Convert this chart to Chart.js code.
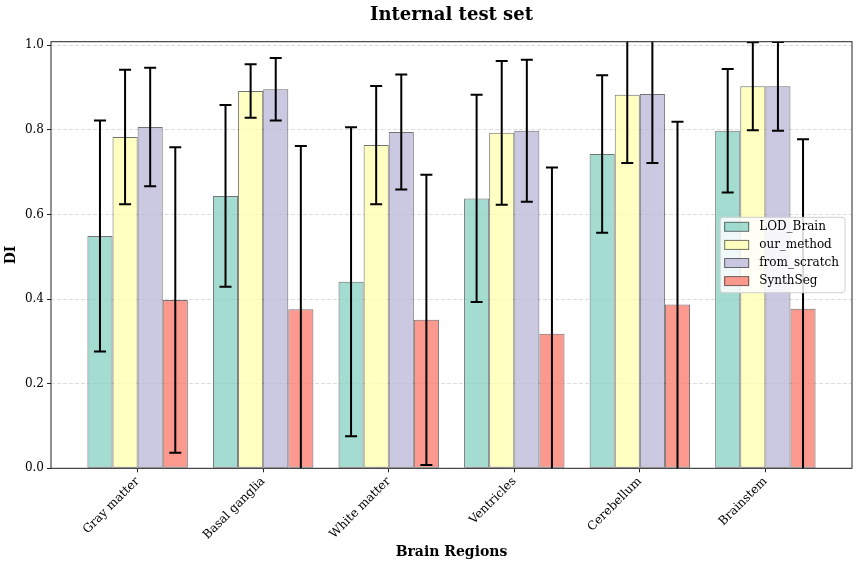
<!DOCTYPE html>
<html>
<head>
<meta charset="utf-8">
<script src="https://cdn.jsdelivr.net/npm/chart.js@4.4.1/dist/chart.umd.min.js"></script>
<style>
  html, body { margin: 0; padding: 0; background: #fff; }
  #wrap { width: 859px; height: 568px; }
</style>
</head>
<body>
<div id="wrap"><canvas id="chartCanvas"></canvas></div>
<script>
// Data (mean and std per region)
var categories = ['Gray matter', 'Basal ganglia', 'White matter', 'Ventricles', 'Cerebellum', 'Brainstem'];
var seriesNames = ['LOD_Brain', 'our_method', 'from_scratch', 'SynthSeg'];
var lodMean = [0.549, 0.644, 0.441, 0.638, 0.743, 0.798];
var lodStd = [0.273, 0.215, 0.365, 0.245, 0.186, 0.146];
var ourMean = [0.783, 0.892, 0.764, 0.793, 0.883, 0.903];
var ourStd = [0.159, 0.063, 0.140, 0.170, 0.161, 0.104];
var scratchMean = [0.807, 0.896, 0.795, 0.798, 0.885, 0.903];
var scratchStd = [0.140, 0.074, 0.136, 0.168, 0.163, 0.105];
var synthMean = [0.398, 0.376, 0.351, 0.318, 0.387, 0.377];
var synthStd = [0.361, 0.386, 0.343, 0.393, 0.432, 0.401];
var yTicks = [0.0, 0.2, 0.4, 0.6, 0.8, 1.0];

var means = [lodMean, ourMean, scratchMean, synthMean];
var stds = [lodStd, ourStd, scratchStd, synthStd];
var colors = ['rgba(141,211,199,0.8)', 'rgba(255,255,179,0.8)', 'rgba(190,186,218,0.8)', 'rgba(251,128,114,0.8)'];

var SERIF = "'DejaVu Serif', serif";

var datasets = seriesNames.map(function(name, k) {
  return {
    label: name,
    data: categories.map(function(c, i) { return { x: i, y: means[k][i] }; }),
    errors: stds[k],
    backgroundColor: colors[k],
    borderColor: 'rgba(0,0,0,0.55)',
    borderWidth: 1,
    borderSkipped: false,
    categoryPercentage: 0.8,
    barPercentage: 1.0
  };
});

// error bars, axes frame
var errorBars = {
  id: 'errorBars',
  afterDatasetsDraw: function(chart) {
    var ctx = chart.ctx, a = chart.chartArea, ys = chart.scales.y;
    ctx.save();
    ctx.beginPath();
    ctx.rect(a.left, a.top, a.right - a.left, a.bottom - a.top);
    ctx.clip();
    ctx.strokeStyle = '#000';
    ctx.lineWidth = 2;
    chart.data.datasets.forEach(function(ds, di) {
      chart.getDatasetMeta(di).data.forEach(function(bar, i) {
        var m = ds.data[i].y, e = ds.errors[i];
        var top = ys.getPixelForValue(m + e), bot = ys.getPixelForValue(m - e);
        ctx.beginPath();
        ctx.moveTo(bar.x, top); ctx.lineTo(bar.x, bot);
        ctx.moveTo(bar.x - 6, top); ctx.lineTo(bar.x + 6, top);
        ctx.moveTo(bar.x - 6, bot); ctx.lineTo(bar.x + 6, bot);
        ctx.stroke();
      });
    });
    ctx.restore();

    ctx.save();
    ctx.strokeStyle = '#222';
    ctx.lineWidth = 1;
    ctx.strokeRect(a.left, a.top, a.right - a.left, a.bottom - a.top);
    ctx.restore();
  }
};

// title, axis titles, legend box
var decorations = {
  id: 'decorations',
  afterDraw: function(chart) {
    var ctx = chart.ctx, a = chart.chartArea;
    var cx = (a.left + a.right) / 2;
    ctx.save();
    ctx.fillStyle = '#000';
    ctx.textAlign = 'center';
    ctx.textBaseline = 'middle';
    ctx.font = 'bold 18px ' + SERIF;
    ctx.fillText('Internal test set', cx, 15);
    ctx.font = 'bold 14px ' + SERIF;
    ctx.fillText('Brain Regions', cx, 552);
    ctx.translate(11, (a.top + a.bottom) / 2);
    ctx.rotate(-Math.PI / 2);
    ctx.fillText('DI', 0, 0);
    ctx.restore();

    // legend (center right, inside axes)
    ctx.save();
    ctx.font = '12px ' + SERIF;
    var labels = chart.data.datasets.map(function(d) { return d.label; });
    var tw = Math.max.apply(null, labels.map(function(l) { return ctx.measureText(l).width; }));
    var rowH = 18.1;
    var boxW = 4 + 25 + 10 + tw + 6;
    var boxH = labels.length * rowH + 3;
    var right = a.right - 7;
    var left = right - boxW;
    var top = (a.top + a.bottom) / 2 - boxH / 2;
    ctx.fillStyle = 'rgba(255,255,255,0.85)';
    ctx.strokeStyle = '#d0d0d0';
    ctx.lineWidth = 1;
    ctx.beginPath();
    ctx.roundRect(left, top, boxW, boxH, 3);
    ctx.fill();
    ctx.stroke();
    chart.data.datasets.forEach(function(ds, i) {
      var cy = top + 9.5 + i * rowH;
      ctx.fillStyle = ds.backgroundColor;
      ctx.fillRect(left + 4, cy - 4.5, 25, 9);
      ctx.strokeStyle = 'rgba(0,0,0,0.55)';
      ctx.strokeRect(left + 4.5, cy - 4.5, 24, 9);
      ctx.fillStyle = '#000';
      ctx.textAlign = 'left';
      ctx.textBaseline = 'middle';
      ctx.fillText(ds.label, left + 39, cy);
    });
    ctx.restore();
  }
};

var ctx = document.getElementById('chartCanvas').getContext('2d');

var chart = new Chart(ctx, {
  type: 'bar',
  data: { datasets: datasets },
  plugins: [errorBars, decorations],
  options: {
    responsive: true,
    maintainAspectRatio: false,
    animation: false,
    layout: { padding: { top: 41.7, right: 7, left: 0, bottom: 0 } },
    plugins: {
      legend: { display: false },
      tooltip: { enabled: false }
    },
    scales: {
      x: {
        type: 'linear',
        offset: false,
        min: -0.69,
        max: 5.69,
        afterBuildTicks: function(s) {
          s.ticks = categories.map(function(c, i) { return { value: i }; });
        },
        afterFit: function(s) { s.height = 99.7; },
        grid: { offset: false, drawOnChartArea: false, drawTicks: true, tickLength: 4, tickColor: '#222', tickWidth: 1 },
        border: { display: false },
        ticks: {
          autoSkip: false,
          minRotation: 45,
          maxRotation: 45,
          padding: 2,
          color: '#000',
          font: { family: SERIF, size: 12 },
          callback: function(v) { return categories[v]; }
        }
      },
      y: {
        min: 0,
        max: 1.0085,
        afterBuildTicks: function(s) {
          s.ticks = yTicks.map(function(v) { return { value: v }; });
        },
        afterFit: function(s) { s.width = 51; },
        grid: { color: '#dddddd', lineWidth: 1, drawTicks: true, tickLength: 4, tickColor: '#222', tickWidth: 1, tickBorderDash: [] },
        border: { display: false, dash: [4, 2] },
        ticks: {
          padding: 3,
          color: '#000',
          font: { family: SERIF, size: 12 },
          callback: function(v) { return v.toFixed(1); }
        }
      }
    }
  }
});
</script>
</body>
</html>
